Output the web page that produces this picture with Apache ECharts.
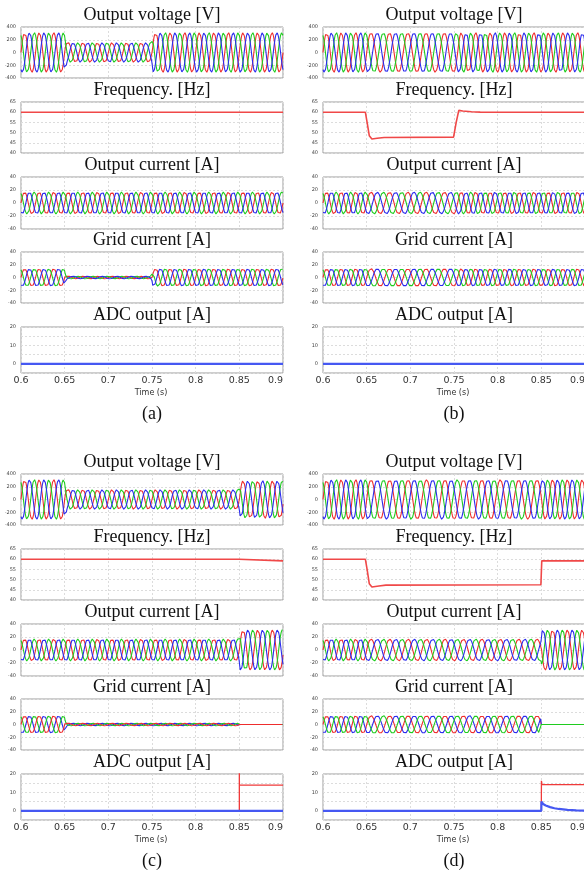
<!DOCTYPE html>
<html>
<head>
<meta charset="utf-8">
<script src="https://cdn.jsdelivr.net/npm/echarts@6/dist/echarts.min.js"></script>
<style>
  html, body { margin: 0; padding: 0; background: #ffffff; }
  #chart { width: 584px; height: 875px; }
</style>
</head>
<body>
<div id="chart"></div>
<script>
// ---- Axis ticks -------------------------------------------------------
const timeTicks = [0.6, 0.65, 0.7, 0.75, 0.8, 0.85, 0.9];
const voltageTicks = [-400, -200, 0, 200, 400];
const freqTicks = [40, 45, 50, 55, 60, 65];
const currentTicks = [-40, -20, 0, 20, 40];
const adcTicks = [-5, 0, 5, 10, 15, 20];
const adcLabelled = [0, 10, 20];

const traceTitles = ['Output voltage [V]', 'Frequency. [Hz]', 'Output current [A]', 'Grid current [A]', 'ADC output [A]'];
const caseLabels = ['(a)', '(b)', '(c)', '(d)'];
const timeAxisName = 'Time (s)';

// ---- Measured frequency [t (s), Hz] ----------------------------------
const freqA = [[0.6, 60], [0.9, 60]];
const freqB = [[0.6, 60], [0.6485, 60], [0.6505, 55], [0.653, 48.5], [0.656, 46.9], [0.662, 47.2],
               [0.67, 47.6], [0.7495, 47.8], [0.7525, 55], [0.7555, 60.9], [0.76, 60.6],
               [0.77, 60.2], [0.78, 60.05], [0.9, 60]];
const freqC = [[0.6, 60], [0.8495, 60], [0.8505, 59.2], [0.9, 59.2]];
const freqD = [[0.6, 60], [0.6485, 60], [0.6505, 55], [0.653, 48], [0.656, 46.4], [0.664, 46.9],
               [0.672, 47.3], [0.8495, 47.5], [0.8505, 59.2], [0.9, 59.2]];

// ---- Peak-value envelopes of the three-phase waveforms [t (s), peak] --
const voltPeakA = [[0.6, 311], [0.6495, 311], [0.653, 155], [0.7495, 155], [0.7515, 311], [0.9, 311]];
const voltPeakB = [[0.6, 311], [0.9, 311]];
const voltPeakC = [[0.6, 311], [0.6495, 311], [0.653, 155], [0.8495, 155], [0.8515, 295], [0.9, 295]];
const voltPeakD = [[0.6, 311], [0.9, 311]];

const outCurPeakA = [[0.6, 17], [0.9, 17]];
const outCurPeakB = [[0.6, 17], [0.9, 17]];
const outCurPeakC = [[0.6, 17], [0.8495, 17], [0.851, 31], [0.9, 31]];
const outCurPeakD = [[0.6, 17], [0.8495, 17], [0.851, 31], [0.9, 31]];

const gridCurPeakA = [[0.6, 14], [0.6495, 14], [0.652, 2], [0.7495, 2], [0.751, 14], [0.9, 14]];
const gridCurPeakB = [[0.6, 14], [0.9, 14]];
const gridCurPeakC = [[0.6, 14], [0.6495, 14], [0.652, 2], [0.8495, 2], [0.8496, 0], [0.9, 0]];
const gridCurPeakD = [[0.6, 14], [0.8499, 14], [0.85, 0], [0.9, 0]];

// ---- ADC output traces [t (s), A] ------------------------------------
const adcRedA = [[0.6, 0], [0.9, 0]];
const adcBlueA = [[0.6, 0], [0.9, 0]];
const adcRedB = [[0.6, 0], [0.9, 0]];
const adcBlueB = [[0.6, 0], [0.9, 0]];
const adcRedC = [[0.6, 0], [0.85, 0], [0.85, 22], [0.8501, 14], [0.9, 14]];
const adcBlueC = [[0.6, 0], [0.9, 0]];
const adcRedD = [[0.6, 0], [0.85, 0], [0.8501, 16.3], [0.8508, 14.2], [0.9, 14.2]];
const adcBlueD = [[0.6, 0], [0.85, 0], [0.8501, 5], [0.852, 3.7], [0.855, 2.9], [0.86, 2.0],
                  [0.865, 1.4], [0.87, 1.0], [0.88, 0.5], [0.89, 0.25], [0.9, 0.1]];

// ---- Styling ----------------------------------------------------------
const RED = '#ee2d2d', GREEN = '#1fcc1f', BLUE = '#2b2bee';
const PHASE_COLOR = { r: RED, g: GREEN, b: BLUE };
const PHASE_SHIFT = { r: 0, g: 2 * Math.PI / 3, b: -2 * Math.PI / 3 };

const panels = [
  { freq: freqA, volt: voltPeakA, oc: outCurPeakA, gc: gridCurPeakA, adcR: adcRedA, adcB: adcBlueA, gcOrder: ['r', 'g', 'b'] },
  { freq: freqB, volt: voltPeakB, oc: outCurPeakB, gc: gridCurPeakB, adcR: adcRedB, adcB: adcBlueB, gcOrder: ['r', 'g', 'b'] },
  { freq: freqC, volt: voltPeakC, oc: outCurPeakC, gc: gridCurPeakC, adcR: adcRedC, adcB: adcBlueC, gcOrder: ['b', 'g', 'r'] },
  { freq: freqD, volt: voltPeakD, oc: outCurPeakD, gc: gridCurPeakD, adcR: adcRedD, adcB: adcBlueD, gcOrder: ['r', 'b', 'g'] }
];

// Layout of the 2 x 2 cases, each a stack of five traces
const colLeft = [21, 323];
const halfTop = [0, 447];
const rowTop = [27, 102, 177, 252, 327];
const rowH = [51, 51, 52, 51, 46];
const plotW = 262;
const titleY = [15, 90, 165, 240, 315];

// piecewise-linear lookup in a [t, v] breakpoint list
function lookup(pts, t) {
  if (t <= pts[0][0]) return pts[0][1];
  for (let i = 1; i < pts.length; i++) {
    if (t <= pts[i][0]) {
      const [t0, v0] = pts[i - 1], [t1, v1] = pts[i];
      if (t1 === t0) return v1;
      return v0 + (v1 - v0) * (t - t0) / (t1 - t0);
    }
  }
  return pts[pts.length - 1][1];
}

// electrical angle follows the measured frequency trace
const T0 = timeTicks[0], T1 = timeTicks[timeTicks.length - 1], DT = 0.0002;
function angleTrack(freq) {
  const n = Math.round((T1 - T0) / DT);
  const ts = [], th = [];
  let a = 0;
  for (let i = 0; i <= n; i++) {
    const t = T0 + i * DT;
    if (i > 0) a += 2 * Math.PI * DT * (lookup(freq, t - DT) + lookup(freq, t)) / 2;
    ts.push(+t.toFixed(5));
    th.push(a);
  }
  return { ts, th };
}

function threePhase(track, peak, key) {
  return track.ts.map((t, i) => [t, lookup(peak, t) * Math.sin(track.th[i] + PHASE_SHIFT[key])]);
}

const grids = [], xAxes = [], yAxes = [], series = [], graphics = [];
const yTickSets = [voltageTicks, freqTicks, currentTicks, currentTicks, adcTicks];

panels.forEach((p, pi) => {
  const left = colLeft[pi % 2];
  const top0 = halfTop[Math.floor(pi / 2)];
  const track = angleTrack(p.freq);

  for (let r = 0; r < 5; r++) {
    const idx = pi * 5 + r;
    const ticks = yTickSets[r];
    grids.push({
      left: left, top: top0 + rowTop[r], width: plotW, height: rowH[r],
      outerBoundsMode: 'none', containLabel: false,
      show: true, borderColor: '#9c9c9c', borderWidth: 1, backgroundColor: '#ffffff'
    });
    xAxes.push({
      gridIndex: idx, type: 'value',
      min: timeTicks[0], max: timeTicks[timeTicks.length - 1],
      interval: timeTicks[1] - timeTicks[0],
      axisLine: { show: false }, axisTick: { show: false },
      axisLabel: {
        show: r === 4, fontSize: 9.5, fontFamily: 'DejaVu Sans', color: '#333',
        margin: 3, alignMaxLabel: 'right',
        formatter: v => String(+v.toFixed(2))
      },
      splitLine: { show: true, lineStyle: { color: '#dcdcdc', type: [2, 2], width: 1 } }
    });
    yAxes.push({
      gridIndex: idx, type: 'value',
      min: ticks[0], max: ticks[ticks.length - 1], interval: ticks[1] - ticks[0],
      axisLine: { show: false }, axisTick: { show: false },
      axisLabel: {
        fontSize: 5, fontFamily: 'DejaVu Sans', color: '#444', margin: 5,
        formatter: r === 4 ? (v => adcLabelled.includes(v) ? String(v) : '') : (v => String(v))
      },
      splitLine: { show: true, lineStyle: { color: '#dcdcdc', type: [2, 2], width: 1 } }
    });

    const base = {
      type: 'line', xAxisIndex: idx, yAxisIndex: idx, showSymbol: false,
      symbol: 'none', silent: true, animation: false, clip: true
    };
    if (r === 0 || r === 2 || r === 3) {
      const peak = r === 0 ? p.volt : (r === 2 ? p.oc : p.gc);
      const order = r === 3 ? p.gcOrder : ['r', 'g', 'b'];
      order.forEach(k => {
        series.push(Object.assign({}, base, {
          data: threePhase(track, peak, k),
          lineStyle: { color: PHASE_COLOR[k], width: 1.1 }
        }));
      });
    } else if (r === 1) {
      series.push(Object.assign({}, base, {
        data: p.freq, lineStyle: { color: '#f04848', width: 1.6 }
      }));
    } else {
      series.push(Object.assign({}, base, {
        data: p.adcR, lineStyle: { color: '#f03a3a', width: 1.3 }
      }));
      series.push(Object.assign({}, base, {
        data: p.adcB, lineStyle: { color: '#4658f2', width: 2.2 }
      }));
    }

    graphics.push({
      type: 'text', x: left + plotW / 2, y: top0 + titleY[r],
      style: {
        text: traceTitles[r], fill: '#111', font: '18px "Liberation Serif"',
        textAlign: 'center', textVerticalAlign: 'middle'
      }
    });
  }

  graphics.push({
    type: 'text', x: left + plotW / 2 - 1, y: top0 + 393,
    style: {
      text: timeAxisName, fill: '#333', font: '8px "DejaVu Sans"',
      textAlign: 'center', textVerticalAlign: 'middle'
    }
  });
  graphics.push({
    type: 'text', x: left + plotW / 2, y: top0 + 414,
    style: {
      text: caseLabels[pi], fill: '#111', font: '18px "Liberation Serif"',
      textAlign: 'center', textVerticalAlign: 'middle'
    }
  });
});

const chart = echarts.init(document.getElementById('chart'), null, { renderer: 'canvas', width: 584, height: 875 });
chart.setOption({
  animation: false,
  backgroundColor: '#ffffff',
  grid: grids, xAxis: xAxes, yAxis: yAxes, series: series,
  graphic: graphics
});
</script>
</body>
</html>
